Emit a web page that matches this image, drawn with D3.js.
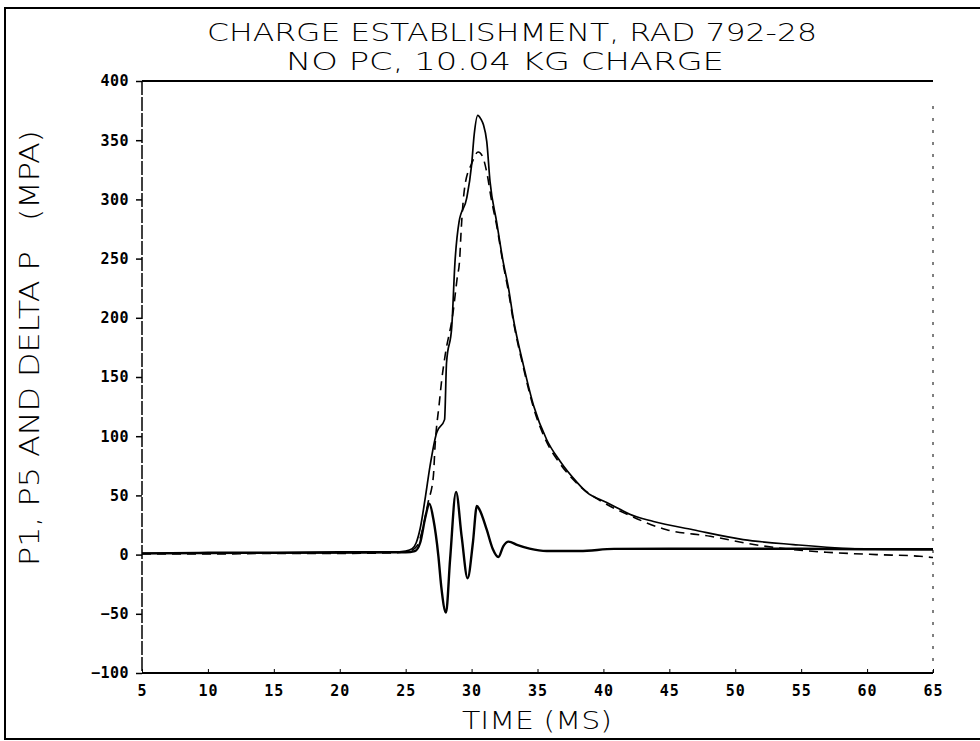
<!DOCTYPE html>
<html>
<head>
<meta charset="utf-8">
<script src="https://cdn.jsdelivr.net/npm/d3@7"></script>
<style>
  body { margin: 0; background: #fff; }
  svg { display: block; }
</style>
</head>
<body>
<div id="vis"></div>
<script>
// chart values (time in ms, pressure in MPa)
const xTicks = [5, 10, 15, 20, 25, 30, 35, 40, 45, 50, 55, 60, 65];
const yTicks = [-100, -50, 0, 50, 100, 150, 200, 250, 300, 350, 400];

// P1 - solid
const timeP1 = [5, 10, 15, 20, 24, 25, 25.5, 25.8, 26.1, 26.5, 26.85, 27.35, 27.95, 28.1, 28.5, 28.74, 29.05, 29.63, 30.0, 30.2, 30.47, 30.7, 30.9, 31.15, 31.4, 31.9, 32.4, 32.8, 33.17, 33.93, 34.7, 35.7, 36.7, 38.0, 38.7, 40.25, 41.3, 42.0, 43.8, 46.8, 50.6, 54.4, 59.5, 65];
const p1 = [1, 1, 1.5, 1.5, 2, 3, 5, 10, 22, 49, 75, 103, 114, 162, 193, 247, 281, 301, 329, 355, 371, 368, 363, 349, 315, 281, 247, 225, 199, 160, 126, 97, 79, 61, 53, 44, 38, 34, 28, 21, 12.7, 8.5, 4.8, 4.2];

// P5 - dashed
const timeP5 = [5, 10, 15, 20, 24, 25.3, 25.84, 26.34, 26.7, 27.1, 27.23, 27.55, 27.74, 27.99, 28.6, 28.9, 29.1, 29.2, 29.5, 30.0, 30.5, 30.8, 31.15, 31.5, 31.9, 32.4, 32.8, 33.17, 33.93, 34.7, 35.7, 36.7, 38.0, 40.0, 41.8, 44.8, 48.1, 51.4, 54.4, 56.9, 60.7, 64, 65];
const p5 = [0.5, 0.5, 1, 1, 1.5, 3, 7, 24, 44, 66, 92, 128, 148, 168, 205, 233, 250, 272, 312, 330, 340, 337, 323, 300, 278, 245, 222, 197, 158, 124, 95, 77, 60, 44, 34, 21, 15.5, 8.5, 4.2, 2, 0, -1.4, -2.5];

// DELTA P - solid, heavier
const timeDP = [5, 10, 15, 20, 25, 25.7, 26.1, 26.5, 26.8, 27.1, 27.48, 27.7, 28.06, 28.37, 28.82, 29.25, 29.7, 30.1, 30.4, 30.6, 31.15, 31.6, 32.03, 32.4, 32.8, 33.5, 34.4, 35.7, 38.2, 40.8, 45, 50, 55, 60, 65];
const dp = [1, 1.5, 1.5, 2, 2, 3, 10, 32, 43, 30, -1, -27, -49, -4, 53, 15, -20, 10, 41, 38, 21, 5, -2, 7, 11, 8, 5, 3, 3, 4.8, 5, 5, 5, 4.5, 4.5];

const titleLines = ['CHARGE ESTABLISHMENT, RAD 792-28', 'NO PC, 10.04 KG CHARGE'];
const xLabel = 'TIME (MS)';
const yLabel = 'P1, P5 AND DELTA P   (MPA)';

const width = 980, height = 741;
const plot = { left: 142, right: 933, top: 81, bottom: 673 };
const plotterFont = 'DejaVu Sans, Liberation Sans, sans-serif';

const svg = d3.select('#vis').append('svg')
  .attr('width', width)
  .attr('height', height);

const x = d3.scaleLinear().domain([5, 65]).range([plot.left, plot.right]);
const y = d3.scaleLinear().domain([-100, 400]).range([plot.bottom, plot.top]);

// outer page frame
svg.append('path')
  .attr('d', `M980,8 L5,8 L5,739 L980,739`)
  .attr('fill', 'none')
  .attr('stroke', '#000')
  .attr('stroke-width', 2);

// titles
svg.selectAll('text.title')
  .data(titleLines)
  .enter().append('text')
  .attr('class', 'title')
  .attr('x', (d, i) => i == 0 ? 512 : 505)
  .attr('y', (d, i) => 41 + i * 29)
  .attr('text-anchor', 'middle')
  .attr('font-family', plotterFont)
  .attr('font-weight', 200)
  .attr('font-size', 25)
  .attr('textLength', (d, i) => i == 0 ? 610 : 438)
  .attr('lengthAdjust', 'spacingAndGlyphs')
  .text(d => d);

// axis frame: top/bottom solid, left dashed, right sparse dots
svg.append('line')
  .attr('x1', plot.left).attr('x2', plot.right)
  .attr('y1', plot.top).attr('y2', plot.top)
  .attr('stroke', '#000').attr('stroke-width', 2);
svg.append('line')
  .attr('x1', plot.left).attr('x2', plot.right)
  .attr('y1', plot.bottom).attr('y2', plot.bottom)
  .attr('stroke', '#000').attr('stroke-width', 2);
svg.append('line')
  .attr('x1', plot.left).attr('x2', plot.left)
  .attr('y1', plot.top).attr('y2', plot.bottom)
  .attr('stroke', '#000').attr('stroke-width', 1.5)
  .attr('stroke-dasharray', '14,2');
svg.append('line')
  .attr('x1', plot.right).attr('x2', plot.right)
  .attr('y1', plot.top + 25).attr('y2', plot.bottom)
  .attr('stroke', '#000').attr('stroke-width', 1)
  .attr('stroke-dasharray', '3,9');

// y axis
const yAxis = svg.append('g')
  .attr('transform', `translate(${plot.left},0)`)
  .call(d3.axisLeft(y).tickValues(yTicks).tickSize(6).tickSizeOuter(0).tickPadding(7));
yAxis.select('.domain').remove();
yAxis.selectAll('.tick line').attr('stroke-width', 1.5);
yAxis.selectAll('text')
  .attr('font-family', 'DejaVu Sans Mono, monospace')
  .attr('font-weight', 'bold')
  .attr('font-size', 15)
  .attr('letter-spacing', 0.5)
  .attr('fill', '#000');

// x axis, ticks point up into the plot
const xAxis = svg.append('g')
  .attr('transform', `translate(0,${plot.bottom})`)
  .call(d3.axisBottom(x).tickValues(xTicks).tickSize(-4).tickSizeOuter(0).tickPadding(12));
xAxis.select('.domain').remove();
xAxis.selectAll('text')
  .attr('font-family', 'DejaVu Sans Mono, monospace')
  .attr('font-weight', 'bold')
  .attr('font-size', 15)
  .attr('letter-spacing', 1)
  .attr('fill', '#000');

// axis titles
svg.append('text')
  .attr('x', 537)
  .attr('y', 729)
  .attr('text-anchor', 'middle')
  .attr('font-family', plotterFont)
  .attr('font-weight', 200)
  .attr('font-size', 25)
  .attr('textLength', 150)
  .attr('lengthAdjust', 'spacingAndGlyphs')
  .style('white-space', 'pre')
  .text(xLabel);

svg.append('text')
  .attr('transform', 'translate(39,348) rotate(-90)')
  .attr('text-anchor', 'middle')
  .attr('font-family', plotterFont)
  .attr('font-weight', 200)
  .attr('font-size', 26)
  .attr('textLength', 436)
  .attr('lengthAdjust', 'spacingAndGlyphs')
  .style('white-space', 'pre')
  .text(yLabel);

// curves
const line = d3.line()
  .x(d => x(d[0]))
  .y(d => y(d[1]))
  .curve(d3.curveMonotoneX);

const series = [
  { t: timeP1, v: p1, w: 1.7, dash: null },
  { t: timeP5, v: p5, w: 1.6, dash: '9,6' },
  { t: timeDP, v: dp, w: 2.4, dash: null }
];

svg.selectAll('path.curve')
  .data(series)
  .enter().append('path')
  .attr('class', 'curve')
  .attr('d', s => line(d3.zip(s.t, s.v)))
  .attr('fill', 'none')
  .attr('stroke', '#000')
  .attr('stroke-width', s => s.w)
  .attr('stroke-dasharray', s => s.dash)
  .attr('stroke-linejoin', 'round');
</script>
</body>
</html>
